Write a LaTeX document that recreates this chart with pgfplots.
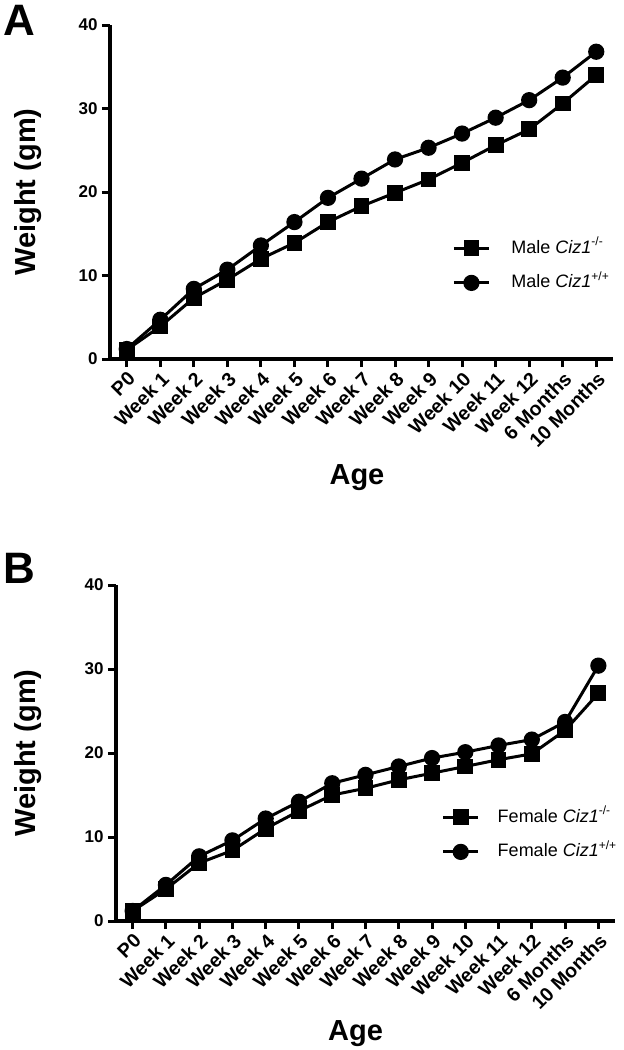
\documentclass[border=0pt]{standalone}
\usepackage{pgfplots}
\pgfplotsset{compat=1.18}
\usepackage{fontspec}
\setmainfont{Liberation Sans}

\newcommand\tk{\bfseries\fontsize{8.5}{10}\selectfont}
\newcommand\xtk{\bfseries\fontsize{9.8}{11}\selectfont}
\newcommand\lab{\bfseries\fontsize{14.5}{17}\selectfont}
\newcommand\leg{\fontsize{9}{11}\selectfont}

\pgfplotsset{
  weightstyle/.style={
    scale only axis,
    xmin=-0.5, xmax=14.5,
    ymin=0, ymax=40,
    ytick={0,10,20,30,40},
    xtick={0,...,14},
    xticklabels={P0,Week 1,Week 2,Week 3,Week 4,Week 5,Week 6,Week 7,Week 8,Week 9,Week 10,Week 11,Week 12,6 Months,10 Months},
    axis x line*=bottom,
    axis y line*=left,
    tick align=outside,
    major tick length=4pt,
    axis line style={line width=1.8pt, -},
    every tick/.style={black, line width=1.5pt},
    /pgf/number format/assume math mode=true,
    yticklabel style={font=\tk, inner xsep=2pt},
    xticklabel style={font=\xtk, rotate=45, anchor=north east, inner sep=1pt},
    ylabel={Weight (gm)},
    xlabel={Age},
    label style={font=\lab},
    clip=false,
    legend cell align=left,
    legend image code/.code={\draw[mark repeat=2,mark phase=2,#1] plot coordinates {(0pt,0pt) (8.75pt,0pt) (17.5pt,0pt)};},
    legend style={draw=none, fill=none, inner sep=0pt, font=\leg, row sep=8.5pt,
      nodes={inner sep=0pt, text height=6.8pt, text depth=2pt},
      /tikz/every odd column/.append style={column sep=10.5pt}},
  },
  ko/.style={black, line width=1.5pt, mark=square*, mark size=3.2pt, mark options={solid, fill=black}},
  wt/.style={black, line width=1.5pt, mark=*, mark size=3.3pt, mark options={solid, fill=black}},
}

\begin{document}
\begin{tikzpicture}
\useasboundingbox (0,0) rectangle (312pt,-525pt);

% panel A
\node[anchor=base west, inner sep=0pt] at (1.5pt,-17.5pt) {\bfseries\fontsize{22}{26}\selectfont A};
\begin{axis}[
  weightstyle,
  at={(55pt,-179.5pt)}, anchor=south west,
  width=251.5pt, height=167pt,
  ylabel style={at={(axis description cs:-0.163,0.5)}, anchor=center, rotate=0},
  xlabel style={at={(axis description cs:0.491,-0.356)}, anchor=center},
  legend style={at={(axis description cs:0.680,0.359)}, anchor=north west},
]
\draw[line width=1.8pt] (rel axis cs:0,0) -- ++(-4pt,0);
\addplot[ko] coordinates {
(0,1.1) (1,3.9) (2,7.3) (3,9.5) (4,12.0) (5,13.9) (6,16.4) (7,18.3)
(8,19.9) (9,21.5) (10,23.5) (11,25.6) (12,27.5) (13,30.6) (14,34.0)};
\addlegendentry{Male \textit{Ciz1}\textsuperscript{-/-}}
\addplot[wt] coordinates {
(0,1.2) (1,4.7) (2,8.4) (3,10.7) (4,13.6) (5,16.4) (6,19.3) (7,21.6)
(8,23.9) (9,25.3) (10,27.0) (11,28.9) (12,31.0) (13,33.7) (14,36.8)};
\addlegendentry{Male \textit{Ciz1}\textsuperscript{+/+}}
\end{axis}

% panel B
\node[anchor=base west, inner sep=0pt] at (1.5pt,-291.5pt) {\bfseries\fontsize{22}{26}\selectfont B};
\begin{axis}[
  weightstyle,
  at={(58pt,-460.5pt)}, anchor=south west,
  width=249.5pt, height=168pt,
  ylabel style={at={(axis description cs:-0.176,0.5)}, anchor=center, rotate=0},
  xlabel style={at={(axis description cs:0.48,-0.336)}, anchor=center},
  legend style={at={(axis description cs:0.652,0.336)}, anchor=north west,
    /tikz/every odd column/.append style={column sep=9pt}},
]
\draw[line width=1.8pt] (rel axis cs:0,0) -- ++(-7pt,0);
\addplot[ko] coordinates {
(0,1.2) (1,3.8) (2,6.9) (3,8.4) (4,11.0) (5,13.1) (6,15.0) (7,15.8)
(8,16.8) (9,17.6) (10,18.4) (11,19.2) (12,19.9) (13,22.7) (14,27.1)};
\addlegendentry{Female \textit{Ciz1}\textsuperscript{-/-}}
\addplot[wt] coordinates {
(0,1.2) (1,4.3) (2,7.7) (3,9.6) (4,12.2) (5,14.2) (6,16.4) (7,17.4)
(8,18.4) (9,19.4) (10,20.1) (11,20.9) (12,21.6) (13,23.7) (14,30.4)};
\addlegendentry{Female \textit{Ciz1}\textsuperscript{+/+}}
\end{axis}
\end{tikzpicture}
\end{document}
